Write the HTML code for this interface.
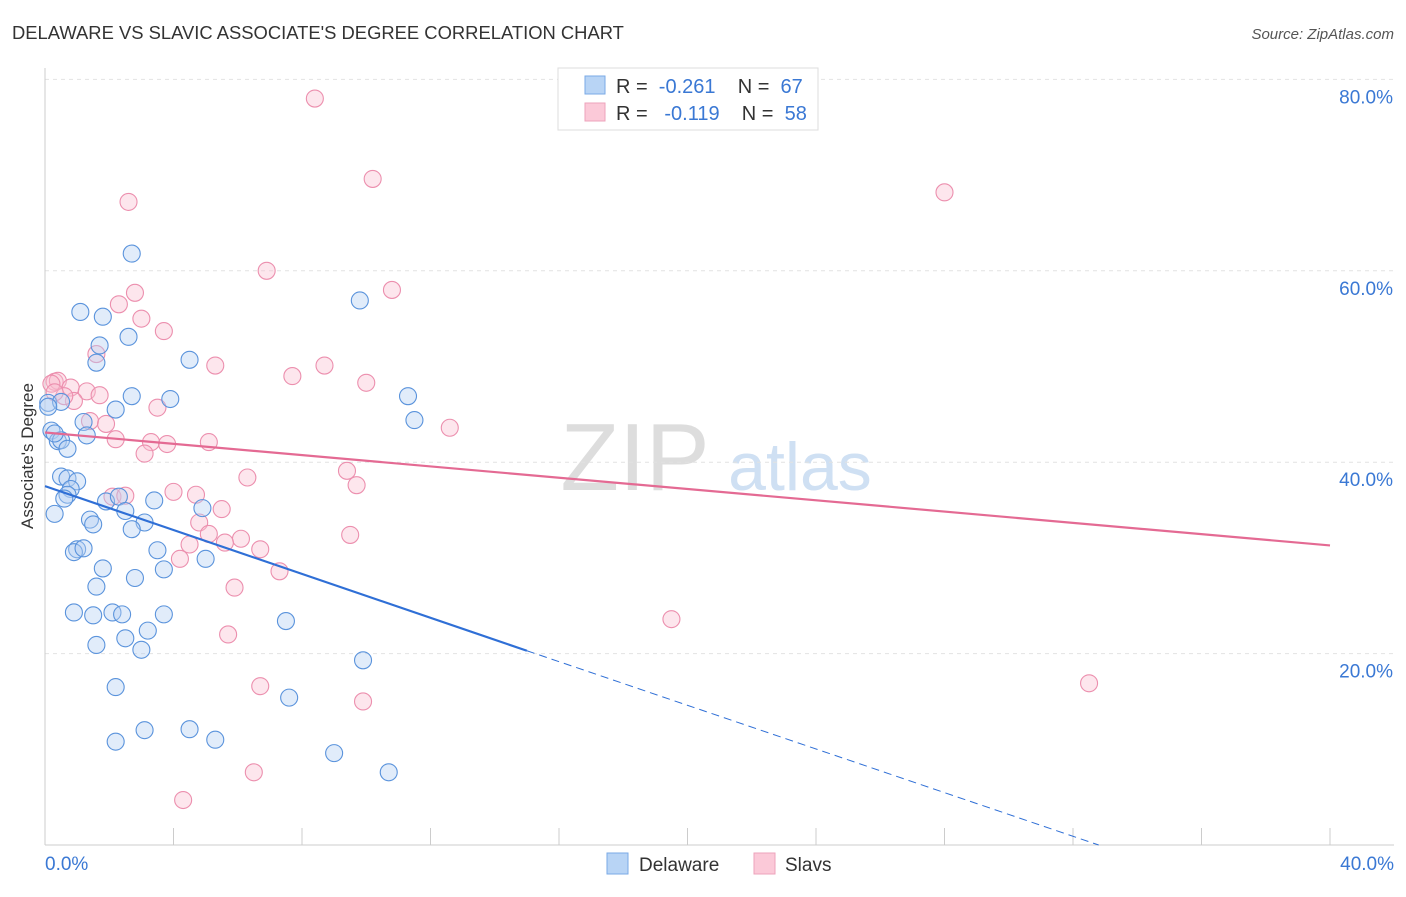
<!DOCTYPE html>
<html><head><meta charset="utf-8"><style>
body{margin:0;background:#fff;font-family:"Liberation Sans",sans-serif;}
svg text{font-family:"Liberation Sans",sans-serif;}
</style></head><body>
<svg width="1406" height="892" id="c">
<text x="12" y="39" font-size="18.4" fill="#333">DELAWARE VS SLAVIC ASSOCIATE'S DEGREE CORRELATION CHART</text>
<text x="1394" y="39" font-size="15" fill="#555" font-style="italic" text-anchor="end">Source: ZipAtlas.com</text>
<text x="33" y="456" font-size="17" fill="#333" text-anchor="middle" transform="rotate(-90 33 456)">Associate's Degree</text>
<text x="635" y="490" font-size="96" fill="#ddd" font-family="Liberation Serif" text-anchor="middle">ZIP</text>
<text x="800" y="490" font-size="68" fill="#cfe0f3" text-anchor="middle">atlas</text>
<g id="grid"></g><g id="pts"></g><g id="lines"></g>
<g>
<rect x="558" y="68" width="260" height="62" fill="#fff" stroke="#ddd"/>
<rect x="585" y="76" width="20" height="18" fill="#b8d4f5" stroke="#7aaae6"/>
<rect x="585" y="103" width="20" height="18" fill="#fbc9d8" stroke="#eea3bb"/>
<text x="616" y="93" font-size="20" fill="#333" xml:space="preserve">R =  <tspan fill="#3a78d4">-0.261</tspan>    N =  <tspan fill="#3a78d4">67</tspan></text>
<text x="616" y="120" font-size="20" fill="#333" xml:space="preserve">R =  <tspan fill="#3a78d4"> -0.119</tspan>    N =  <tspan fill="#3a78d4">58</tspan></text>
</g>
<g>
<rect x="607" y="853" width="21" height="21" fill="#b8d4f5" stroke="#7aaae6"/>
<text x="639" y="871" font-size="19" fill="#333">Delaware</text>
<rect x="754" y="853" width="21" height="21" fill="#fbc9d8" stroke="#eea3bb"/>
<text x="785" y="871" font-size="19" fill="#333">Slavs</text>
</g>
</svg>
<script>
const xTicks=[0,4,8,12,16,20,24,28,32,36,40];
const yTicks=[20,40,60,80];
const delX=[2.7,9.8,1.1,1.8,2.6,1.7,1.6,4.5,2.7,3.9,2.2,11.3,11.5,0.1,0.5,1.2,1.3,0.2,0.4,0.5,0.7,0.5,0.7,1.0,0.8,0.7,0.6,1.9,2.3,3.4,2.5,0.3,1.4,1.5,3.1,2.7,4.9,1.0,0.9,1.2,1.8,2.8,3.7,3.5,5.0,1.6,0.9,1.5,2.1,2.4,3.7,3.2,2.5,7.5,3.0,1.6,9.9,2.2,7.6,3.1,4.5,2.2,5.3,9.0,10.7,0.1,0.3];
const delY=[61.8,56.9,55.7,55.2,53.1,52.2,50.4,50.7,46.9,46.6,45.5,46.9,44.4,46.2,46.3,44.2,42.8,43.3,42.2,42.3,41.4,38.5,38.3,38.0,37.2,36.6,36.2,35.9,36.4,36.0,34.9,34.6,34.0,33.5,33.7,33.0,35.2,30.9,30.6,31.0,28.9,27.9,28.8,30.8,29.9,27.0,24.3,24.0,24.3,24.1,24.1,22.4,21.6,23.4,20.4,20.9,19.3,16.5,15.4,12.0,12.1,10.8,11.0,9.6,7.6,45.8,43.0];
const slvX=[8.4,10.2,2.6,28.0,6.9,10.8,2.8,2.3,3.0,3.7,1.6,5.3,8.7,7.7,10.0,0.3,0.4,0.2,0.8,1.3,0.9,1.7,0.6,3.5,1.4,1.9,2.2,3.3,3.8,5.1,12.6,3.1,9.4,6.3,9.7,4.0,4.7,2.1,2.5,5.5,4.8,5.1,6.1,4.5,4.2,5.6,6.7,9.5,7.3,5.9,19.5,5.7,6.7,9.9,32.5,6.5,4.3,0.3];
const slvY=[78.0,69.6,67.2,68.2,60.0,58.0,57.7,56.5,55.0,53.7,51.3,50.1,50.1,49.0,48.3,48.4,48.5,48.2,47.8,47.4,46.4,47.0,46.9,45.7,44.3,44.0,42.4,42.1,41.9,42.1,43.6,40.9,39.1,38.4,37.6,36.9,36.6,36.4,36.5,35.1,33.7,32.5,32.0,31.4,29.9,31.6,30.9,32.4,28.6,26.9,23.6,22.0,16.6,15.0,16.9,7.6,4.7,47.3];
const X=v=>45+v*32.125, Y=v=>845-v*9.57;
const ns='http://www.w3.org/2000/svg';
function mk(t,a,p){const e=document.createElementNS(ns,t);for(const k in a)e.setAttribute(k,a[k]);p.appendChild(e);return e;}
const g=document.getElementById('grid');
yTicks.forEach(v=>{const l=mk('line',{x1:45,x2:1394,y1:Y(v),y2:Y(v),stroke:'#e2e2e2','stroke-dasharray':'4,4'},g);


const t=mk('text',{x:1393,y:Y(v)+24,'font-size':19,fill:'#3a78d4','text-anchor':'end'},g);t.textContent=v.toFixed(1)+'%';

});
mk('line',{x1:45,x2:1394,y1:845,y2:845,stroke:'#ccc'},g);
mk('line',{x1:45,x2:45,y1:68,y2:845,stroke:'#ccc'},g);
xTicks.forEach(v=>{const l=mk('line',{x1:X(v),x2:X(v),y1:828,y2:845,stroke:'#ccc'},g);

});
[[0,'start',45],[40,'end',1394]].forEach(([v,a,x])=>{const t=mk('text',{x:x,y:870,'font-size':19,fill:'#3a78d4','text-anchor':a},g);t.textContent=v.toFixed(1)+'%';

});
const p=document.getElementById('pts');
function dots(xs,ys,f,s,n){xs.forEach((x,i)=>{const c=mk('circle',{cx:X(x),cy:Y(ys[i]),r:8.5,fill:f,'fill-opacity':0.4,stroke:s,'stroke-width':1.1},p);

});}
dots(slvX,slvY,'#fbc1d3','#ec8fae','slavs-point');
dots(delX,delY,'#b3cff2','#5a93dc','delaware-point');
const L=document.getElementById('lines');
const bl=mk('line',{x1:X(0),y1:Y(37.5),x2:X(15),y2:Y(20.3),stroke:'#2f6fd6','stroke-width':2.2},L);


const bd=mk('line',{x1:X(15),y1:Y(20.3),x2:X(32.8),y2:Y(0),stroke:'#2f6fd6','stroke-width':1,'stroke-dasharray':'8,5'},L);


const pl=mk('line',{x1:X(0),y1:Y(43.1),x2:X(40),y2:Y(31.3),stroke:'#e46a93','stroke-width':2.2},L);


</script>
</body></html>
